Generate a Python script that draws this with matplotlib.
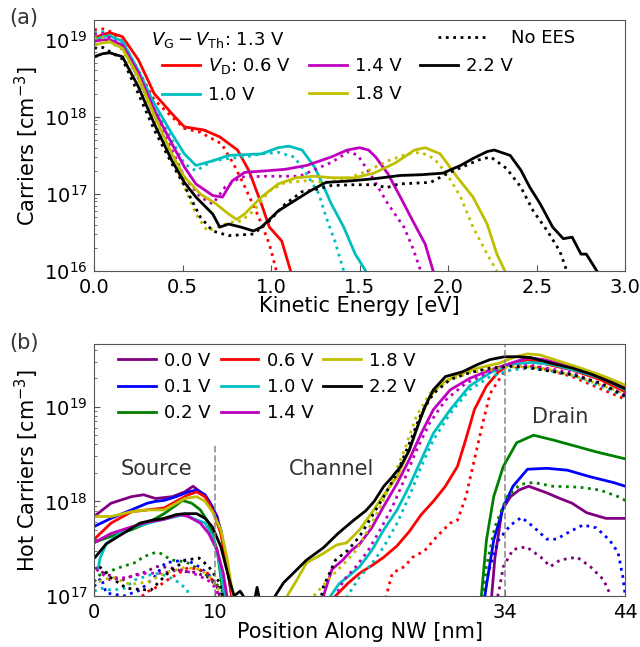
import numpy as np
import matplotlib.pyplot as plt

# ---------------- (a) carriers vs kinetic energy, log10 values ----------------
vd_labels_a = ["$V_\\mathrm{D}$: 0.6 V", "1.0 V", "1.4 V", "1.8 V", "2.2 V"]
colors_a = ["r", "c", "m", "y", "k"]

ke_06 = [0.0, 0.05, 0.09, 0.16, 0.25, 0.34, 0.44, 0.51, 0.62, 0.71, 0.81, 0.875, 0.945, 0.99, 1.06, 1.11]
n_06 = [19.02, 19.07, 19.09, 19.04, 18.74, 18.3, 18.04, 17.87, 17.83, 17.74, 17.57, 17.3, 16.87, 16.57, 16.39, 16.0]
ke_06_nees = [0.0, 0.05, 0.1, 0.16, 0.25, 0.34, 0.44, 0.51, 0.6, 0.72, 0.79, 0.85, 0.93, 0.99, 1.03]
n_06_nees = [19.13, 19.14, 19.1, 18.98, 18.6, 18.22, 18.0, 17.85, 17.8, 17.65, 17.38, 17.1, 16.7, 16.35, 16.0]

ke_10 = [0.0, 0.05, 0.09, 0.16, 0.25, 0.34, 0.44, 0.51, 0.575, 0.67, 0.76, 0.85, 0.945, 1.04, 1.1,
         1.175, 1.245, 1.29, 1.34, 1.41, 1.475, 1.535]
n_10 = [19.0, 19.04, 19.05, 18.98, 18.6, 18.17, 17.78, 17.52, 17.37, 17.43, 17.5, 17.51, 17.52, 17.6, 17.62,
        17.57, 17.35, 17.13, 16.87, 16.57, 16.22, 16.0]
ke_10_nees = [0.0, 0.05, 0.16, 0.25, 0.34, 0.44, 0.51, 0.575, 0.67, 0.76, 0.85, 0.945, 1.04, 1.13, 1.2,
              1.27, 1.31, 1.36, 1.41]
n_10_nees = [19.09, 19.1, 18.95, 18.56, 18.13, 17.7, 17.39, 17.3, 17.43, 17.46, 17.48, 17.52, 17.54, 17.48,
             17.26, 17.0, 16.7, 16.39, 16.0]

ke_14 = [0.0, 0.05, 0.09, 0.16, 0.25, 0.34, 0.44, 0.51, 0.575, 0.67, 0.725, 0.78, 0.85, 0.97, 1.08, 1.2,
         1.34, 1.43, 1.5, 1.55, 1.59, 1.66, 1.73, 1.8, 1.87, 1.915]
n_14 = [18.98, 19.0, 19.0, 18.93, 18.57, 18.09, 17.65, 17.35, 17.13, 16.98, 16.96, 17.17, 17.28, 17.3, 17.32,
        17.37, 17.48, 17.57, 17.6, 17.57, 17.48, 17.26, 16.96, 16.65, 16.35, 16.0]
ke_14_nees = [0.0, 0.05, 0.16, 0.25, 0.34, 0.44, 0.51, 0.6, 0.67, 0.74, 0.83, 0.97, 1.08, 1.16, 1.24, 1.34,
              1.44, 1.49, 1.57, 1.66, 1.75, 1.8, 1.845]
n_14_nees = [19.07, 19.08, 18.92, 18.5, 18.04, 17.57, 17.22, 16.96, 16.87, 17.09, 17.22, 17.23, 17.23, 17.23,
             17.31, 17.41, 17.55, 17.5, 17.22, 16.87, 16.57, 16.3, 16.0]

ke_18 = [0.0, 0.05, 0.09, 0.16, 0.25, 0.34, 0.44, 0.51, 0.6, 0.69, 0.76, 0.805, 0.85, 0.945, 1.04, 1.14,
         1.24, 1.35, 1.47, 1.58, 1.7, 1.81, 1.87, 1.955, 2.05, 2.14, 2.22, 2.275, 2.32]
n_18 = [18.93, 18.96, 18.97, 18.89, 18.52, 18.02, 17.52, 17.22, 17.0, 16.87, 16.74, 16.67, 16.74, 16.96, 17.13,
        17.21, 17.23, 17.21, 17.21, 17.27, 17.4, 17.57, 17.6, 17.52, 17.22, 16.96, 16.61, 16.22, 16.0]
ke_18_nees = [0.0, 0.05, 0.16, 0.25, 0.34, 0.44, 0.51, 0.575, 0.64, 0.7, 0.76, 0.83, 0.9, 0.99, 1.08, 1.2,
              1.31, 1.43, 1.545, 1.66, 1.77, 1.845, 1.92, 1.99, 2.07, 2.14, 2.22, 2.275]
n_18_nees = [19.02, 19.03, 18.87, 18.48, 17.98, 17.48, 17.09, 16.74, 16.52, 16.57, 16.63, 16.65, 16.78, 17.04,
             17.15, 17.17, 17.15, 17.2, 17.3, 17.43, 17.52, 17.54, 17.46, 17.27, 16.96, 16.57, 16.22, 16.0]

ke_22 = [0.0, 0.05, 0.09, 0.16, 0.25, 0.34, 0.44, 0.51, 0.575, 0.67, 0.71, 0.76, 0.83, 0.9, 0.945, 1.04,
         1.13, 1.22, 1.31, 1.45, 1.59, 1.73, 1.85, 1.97, 2.07, 2.14, 2.22, 2.26, 2.35, 2.41, 2.46, 2.52,
         2.59, 2.65, 2.7, 2.75, 2.78, 2.84]
n_22 = [18.78, 18.82, 18.83, 18.78, 18.39, 17.91, 17.43, 17.15, 16.96, 16.74, 16.57, 16.61, 16.57, 16.52,
        16.57, 16.78, 16.91, 17.04, 17.15, 17.17, 17.2, 17.24, 17.25, 17.27, 17.37, 17.46, 17.55, 17.57,
        17.5, 17.31, 17.09, 16.87, 16.57, 16.42, 16.44, 16.22, 16.22, 16.0]
ke_22_nees = [0.0, 0.05, 0.16, 0.25, 0.34, 0.44, 0.51, 0.6, 0.67, 0.76, 0.9, 0.99, 1.08, 1.175, 1.24, 1.34,
              1.47, 1.59, 1.65, 1.72, 1.9, 2.0, 2.08, 2.17, 2.24, 2.33, 2.41, 2.48, 2.56, 2.63, 2.67]
n_22_nees = [18.89, 18.9, 18.75, 18.3, 17.83, 17.39, 17.11, 16.7, 16.52, 16.46, 16.48, 16.65, 16.87, 17.03,
             17.05, 17.11, 17.12, 17.12, 17.08, 17.13, 17.15, 17.27, 17.35, 17.44, 17.48, 17.33, 17.09,
             16.78, 16.52, 16.26, 16.0]

series_a = [(ke_06, n_06, ke_06_nees, n_06_nees), (ke_10, n_10, ke_10_nees, n_10_nees),
            (ke_14, n_14, ke_14_nees, n_14_nees), (ke_18, n_18, ke_18_nees, n_18_nees),
            (ke_22, n_22, ke_22_nees, n_22_nees)]

# ---------------- (b) hot carriers along the nanowire, log10 values ----------------
vd_labels_b = ["0.0 V", "0.1 V", "0.2 V", "0.6 V", "1.0 V", "1.4 V", "1.8 V", "2.2 V"]
colors_b = ["purple", "b", "g", "r", "c", "m", "y", "k"]

pos_00 = [0.1, 1.4, 3.1, 4.1, 5.1, 6.5, 7.5, 8.2, 8.8, 9.5, 10.2, 10.7, 11.2, 11.4, 12.0, 32.6, 33.2, 33.8,
          34.5, 35.2, 36.0, 37.5, 38.6, 39.6, 40.8, 41.6, 42.4, 44.0]
hc_00 = [17.85, 17.98, 18.05, 18.07, 18.03, 18.05, 18.1, 18.16, 18.1, 18.01, 17.84, 17.55, 17.2, 17.0, 16.5,
         16.5, 17.4, 17.91, 18.05, 18.12, 18.16, 18.09, 18.03, 17.98, 17.88, 17.85, 17.82, 17.82]
pos_01 = [0.1, 1.4, 3.1, 4.4, 5.1, 5.8, 6.8, 7.8, 8.5, 9.2, 9.8, 10.5, 11.0, 11.4, 12.0, 32.0, 32.4, 33.1,
          33.9, 34.7, 35.9, 37.5, 39.2, 41.1, 43.0, 44.0]
hc_01 = [17.74, 17.82, 17.91, 17.98, 18.0, 18.01, 18.05, 18.1, 18.12, 18.07, 17.94, 17.7, 17.34, 17.0, 16.5,
         16.5, 17.03, 17.59, 17.94, 18.16, 18.34, 18.35, 18.33, 18.26, 18.2, 18.16]
pos_02 = [0.1, 1.4, 3.1, 4.4, 5.8, 6.8, 7.3, 8.1, 8.8, 9.5, 10.2, 10.5, 10.7, 11.2, 31.6, 32.1, 32.5, 33.1,
          33.9, 35.0, 36.4, 38.0, 40.0, 41.7, 44.0]
hc_02 = [17.57, 17.63, 17.7, 17.77, 17.87, 17.96, 18.01, 17.98, 17.91, 17.77, 17.48, 17.2, 17.0, 16.5, 16.5,
         17.03, 17.59, 18.05, 18.37, 18.62, 18.7, 18.65, 18.58, 18.52, 18.45]
pos_06 = [0.1, 1.4, 3.1, 4.4, 5.8, 6.8, 7.8, 8.5, 9.2, 9.8, 10.5, 11.0, 11.4, 12.0, 19.5, 20.0, 21.0, 22.0,
          23.0, 24.0, 25.1, 26.1, 27.1, 28.1, 29.1, 30.1, 30.8, 31.5, 32.5, 33.5, 34.5, 35.9, 37.2, 39.6,
          41.9, 44.0]
hc_06 = [17.61, 17.77, 17.89, 17.91, 17.93, 18.0, 18.07, 18.1, 18.05, 17.91, 17.66, 17.31, 17.0, 16.5, 16.5,
         17.0, 17.13, 17.24, 17.32, 17.41, 17.53, 17.68, 17.86, 18.0, 18.16, 18.37, 18.66, 18.97, 19.22,
         19.37, 19.46, 19.5, 19.46, 19.39, 19.29, 19.16]
pos_10 = [0.35, 0.5, 1.0, 2.1, 3.4, 4.8, 6.1, 7.5, 8.2, 9.2, 9.8, 10.3, 10.8, 11.3, 19.0, 19.6, 20.3, 21.0,
          22.0, 23.0, 24.0, 25.1, 26.1, 27.1, 28.1, 29.5, 31.1, 32.8, 34.5, 36.2, 37.9, 40.3, 42.3, 44.0]
hc_10 = [17.3, 17.4, 17.55, 17.66, 17.73, 17.78, 17.82, 17.86, 17.82, 17.77, 17.63, 17.41, 17.0, 16.5, 16.5,
         17.0, 17.13, 17.2, 17.31, 17.48, 17.7, 17.91, 18.16, 18.44, 18.72, 18.97, 19.22, 19.36, 19.45,
         19.47, 19.45, 19.37, 19.29, 19.18]
pos_14 = [0.1, 1.4, 3.1, 4.4, 5.8, 7.1, 7.8, 8.8, 9.5, 10.2, 10.7, 11.0, 11.5, 18.5, 19.0, 19.7, 20.6, 21.3,
          22.0, 23.0, 24.0, 25.1, 26.1, 27.1, 28.1, 29.5, 31.1, 32.8, 34.5, 35.9, 37.2, 39.6, 41.9, 44.0]
hc_14 = [17.57, 17.66, 17.73, 17.78, 17.81, 17.86, 17.84, 17.77, 17.66, 17.48, 17.24, 17.0, 16.5, 16.5, 17.0,
         17.28, 17.38, 17.48, 17.55, 17.72, 17.95, 18.19, 18.44, 18.72, 18.97, 19.18, 19.3, 19.39, 19.46,
         19.52, 19.5, 19.43, 19.32, 19.2]
pos_18 = [0.1, 1.4, 3.1, 4.4, 5.8, 6.8, 7.5, 8.5, 9.2, 9.8, 10.5, 11.0, 11.5, 12.0, 15.5, 16.0, 16.8, 17.6,
          19.0, 20.1, 20.9, 22.0, 23.0, 24.0, 25.1, 26.1, 27.1, 27.8, 28.8, 30.1, 31.8, 33.5, 34.9, 35.9,
          36.9, 38.6, 40.3, 42.3, 44.0]
hc_18 = [17.84, 17.84, 17.89, 17.91, 17.91, 17.98, 18.03, 18.05, 18.0, 17.89, 17.7, 17.41, 17.0, 16.5, 16.5,
         17.0, 17.17, 17.35, 17.45, 17.54, 17.56, 17.7, 17.88, 18.07, 18.26, 18.54, 18.9, 19.11, 19.25,
         19.34, 19.41, 19.46, 19.53, 19.56, 19.55, 19.48, 19.41, 19.32, 19.23]
pos_22 = [0.1, 1.0, 2.4, 3.8, 4.8, 5.8, 6.8, 7.5, 8.5, 9.2, 9.8, 10.5, 11.2, 11.6, 12.1, 12.6, 13.2, 13.5,
          13.8, 14.6, 15.0, 15.7, 16.5, 17.6, 19.0, 20.2, 21.5, 22.5, 23.2, 24.0, 24.7, 25.4, 26.1, 26.7,
          27.4, 28.1, 29.1, 30.5, 31.8, 32.8, 34.0, 35.2, 36.2, 37.9, 39.6, 41.3, 43.0, 44.0]
hc_22 = [17.41, 17.55, 17.66, 17.77, 17.8, 17.82, 17.86, 17.87, 17.87, 17.82, 17.73, 17.52, 17.17, 17.0,
         17.05, 16.95, 16.9, 17.09, 16.9, 16.9, 17.0, 17.14, 17.24, 17.38, 17.51, 17.66, 17.8, 17.9, 18.0,
         18.16, 18.26, 18.37, 18.54, 18.76, 19.0, 19.18, 19.32, 19.37, 19.45, 19.5, 19.53, 19.53, 19.52,
         19.46, 19.41, 19.34, 19.25, 19.19]

pos_00_nees = [0.1, 0.8, 1.6, 2.4, 3.3, 4.0, 5.2, 6.3, 7.3, 8.3, 9.4, 10.2, 10.8, 33.0, 33.5, 33.9, 34.7,
               35.8, 37.0, 37.8, 38.6, 40.0, 41.1, 42.2, 42.7, 43.2]
hc_00_nees = [17.3, 17.24, 17.2, 17.17, 17.22, 17.24, 17.31, 17.3, 17.26, 17.25, 17.2, 17.1, 16.8, 16.8,
              17.03, 17.31, 17.49, 17.52, 17.41, 17.31, 17.38, 17.41, 17.31, 17.17, 17.03, 16.8]
pos_01_nees = [0.0, 0.6, 1.0, 2.5, 3.8, 5.0, 5.9, 7.0, 7.7, 8.8, 9.7, 10.4, 10.9, 32.0, 32.4, 32.8, 33.5,
               34.5, 35.4, 36.4, 37.5, 38.3, 39.4, 40.5, 41.6, 42.7, 43.4, 43.8, 44.0]
hc_01_nees = [17.1, 17.19, 17.03, 17.0, 17.06, 17.2, 17.35, 17.37, 17.38, 17.3, 17.2, 17.05, 16.8, 16.8,
              17.1, 17.31, 17.59, 17.75, 17.83, 17.73, 17.6, 17.6, 17.68, 17.75, 17.72, 17.59, 17.46,
              17.2, 17.0]
pos_02_nees = [0.0, 0.45, 2.1, 3.6, 4.0, 5.1, 5.5, 6.4, 7.6, 8.7, 9.8, 10.6, 11.0, 31.8, 32.2, 32.5, 33.2,
               34.2, 35.3, 36.4, 38.0, 40.2, 41.9, 43.4, 44.0]
hc_02_nees = [17.15, 17.22, 17.3, 17.36, 17.41, 17.46, 17.45, 17.38, 17.36, 17.28, 17.17, 17.06, 16.8,
              16.8, 17.0, 17.31, 17.73, 18.05, 18.18, 18.2, 18.16, 18.15, 18.12, 18.05, 18.01]
pos_06_nees = [3.0, 4.5, 5.3, 6.1, 7.0, 7.8, 8.7, 9.4, 10.1, 10.6, 23.8, 24.2, 24.7, 25.7, 26.4, 27.4,
               28.4, 29.5, 30.1, 30.8, 31.5, 32.2, 32.8, 33.9, 34.9, 36.5, 39.6, 44.0]
hc_06_nees = [16.9, 17.05, 17.1, 17.17, 17.24, 17.3, 17.28, 17.24, 17.1, 16.9, 16.8, 17.0, 17.24, 17.31,
              17.41, 17.48, 17.63, 17.77, 17.8, 18.05, 18.44, 18.83, 19.14, 19.36, 19.41, 19.43, 19.32, 19.08]
pos_10_nees = [0.0, 0.6, 1.5, 2.5, 3.4, 4.6, 5.4, 6.7, 7.7, 8.2, 20.5, 21.0, 22.0, 23.0, 24.0, 25.1, 26.1,
               27.1, 28.1, 29.5, 31.1, 32.8, 34.5, 36.2, 39.6, 44.0]
hc_10_nees = [17.05, 17.08, 17.06, 17.08, 17.17, 17.22, 17.24, 17.17, 17.07, 16.8, 16.8, 17.0, 17.2, 17.34,
              17.52, 17.77, 18.05, 18.37, 18.65, 18.93, 19.18, 19.32, 19.39, 19.41, 19.34, 19.11]
pos_14_nees = [0.2, 1.3, 2.9, 4.3, 5.7, 7.1, 8.2, 9.4, 10.1, 10.8, 19.5, 20.0, 20.7, 21.7, 22.7, 23.7, 24.7,
               25.7, 26.7, 27.8, 29.1, 30.8, 32.8, 34.5, 36.2, 39.6, 44.0]
hc_14_nees = [17.28, 17.17, 17.2, 17.24, 17.24, 17.28, 17.24, 17.17, 17.08, 16.8, 16.8, 17.0, 17.17, 17.31,
              17.48, 17.7, 17.94, 18.23, 18.54, 18.83, 19.07, 19.25, 19.37, 19.43, 19.44, 19.36, 19.13]
pos_18_nees = [0.4, 1.5, 3.0, 4.5, 6.0, 7.5, 8.8, 9.8, 10.4, 11.0, 17.0, 18.2, 19.6, 20.7, 21.7, 22.7,
               23.7, 24.7, 25.7, 26.7, 27.8, 29.5, 31.1, 33.5, 35.5, 37.5, 40.0, 44.0]
hc_18_nees = [17.15, 17.2, 17.12, 17.15, 17.25, 17.3, 17.28, 17.18, 17.05, 16.8, 16.8, 17.0, 17.2, 17.34,
              17.48, 17.7, 17.94, 18.23, 18.54, 18.9, 19.14, 19.29, 19.36, 19.41, 19.43, 19.4, 19.32, 19.14]
pos_22_nees = [0.45, 1.3, 2.7, 4.7, 6.1, 7.6, 8.7, 9.5, 10.4, 11.0, 18.5, 19.0, 20.0, 21.0, 22.0, 23.0,
               24.0, 25.1, 26.1, 27.1, 28.1, 29.5, 31.1, 32.8, 34.5, 36.2, 39.6, 42.0, 44.0]
hc_22_nees = [17.31, 17.2, 17.08, 17.06, 17.24, 17.38, 17.4, 17.31, 17.14, 16.8, 16.8, 17.1, 17.38, 17.48,
              17.63, 17.84, 18.05, 18.3, 18.61, 18.93, 19.14, 19.29, 19.36, 19.41, 19.43, 19.41, 19.34,
              19.25, 19.11]

series_b = [(pos_00, hc_00, pos_00_nees, hc_00_nees), (pos_01, hc_01, pos_01_nees, hc_01_nees),
            (pos_02, hc_02, pos_02_nees, hc_02_nees), (pos_06, hc_06, pos_06_nees, hc_06_nees),
            (pos_10, hc_10, pos_10_nees, hc_10_nees), (pos_14, hc_14, pos_14_nees, hc_14_nees),
            (pos_18, hc_18, pos_18_nees, hc_18_nees), (pos_22, hc_22, pos_22_nees, hc_22_nees)]

region_labels = ["Source", "Channel", "Drain"]

# ---------------- figure ----------------
plt.rcParams['font.family'] = 'DejaVu Sans'
plt.rcParams['mathtext.fontset'] = 'dejavusans'
edge = '#555555'
lw = 2.0

fig = plt.figure(figsize=(6.4, 6.47), dpi=100)
ax1 = fig.add_axes([0.147, 0.581, 0.83, 0.388])
ax2 = fig.add_axes([0.147, 0.079, 0.83, 0.389])

for ax in (ax1, ax2):
    ax.set_yscale('log')
    ax.tick_params(which='both', direction='in', top=False, right=False, labelsize=14, color=edge)
    ax.tick_params(which='major', length=4)
    ax.tick_params(which='minor', length=2)
    ax.tick_params(axis='x', pad=5)
    ax.tick_params(axis='y', pad=4.5)
    for s in ax.spines.values():
        s.set_color(edge)

# (a)
handles = []
for (e, n, e2, n2), c, lab in zip(series_a, colors_a, vd_labels_a):
    h, = ax1.plot(e, 10 ** np.array(n), color=c, lw=lw, label=lab)
    ax1.plot(e2, 10 ** np.array(n2), color=c, lw=lw, ls=':')
    handles.append(h)
ax1.set_xlim(0, 3.0)
ax1.set_ylim(1e16, 1.8e19)
ax1.set_xticks([0.0, 0.5, 1.0, 1.5, 2.0, 2.5, 3.0])
ax1.set_xlabel('Kinetic Energy [eV]', fontsize=15)
ax1.set_ylabel('Carriers [cm$^{-3}$]', fontsize=15)
ax1.xaxis.set_label_coords(0.5, -0.1)
ax1.yaxis.set_label_coords(-0.1, 0.5)

ax1.text(0.108, 0.92, '$V_\\mathrm{G}-V_\\mathrm{Th}$: 1.3 V', transform=ax1.transAxes,
         fontsize=13, ha='left', va='center')
leg1 = ax1.legend(handles=handles, ncol=3, loc='upper left', bbox_to_anchor=(0.128, 0.855),
                  frameon=False, fontsize=13, borderpad=0, borderaxespad=0, handlelength=2.1,
                  handletextpad=0.45, columnspacing=1.0, labelspacing=0.55)
ax1.add_artist(leg1)
nees, = ax1.plot([], [], color='k', lw=lw, ls=':', label='No EES')
ax1.legend(handles=[nees], loc='upper left', bbox_to_anchor=(0.648, 0.965), frameon=False,
           fontsize=13, borderpad=0, borderaxespad=0, handlelength=2.8, handletextpad=1.2)

# (b)
handles_b = []
for (x, y, x2, y2), c, lab in zip(series_b, colors_b, vd_labels_b):
    h, = ax2.plot(x, 10 ** np.array(y), color=c, lw=lw, label=lab)
    ax2.plot(x2, 10 ** np.array(y2), color=c, lw=lw, ls=':')
    handles_b.append(h)
ax2.axvline(34, color='gray', lw=1.3, ls='--', alpha=0.8)
ax2.vlines(10, 1e17, 4e18, color='gray', lw=1.3, ls='--', alpha=0.8)
ax2.set_xlim(0, 44)
ax2.set_ylim(1e17, 4.6e19)
ax2.set_xticks([0, 10, 34, 44])
ax2.set_xlabel('Position Along NW [nm]', fontsize=15)
ax2.set_ylabel('Hot Carriers [cm$^{-3}$]', fontsize=15)
ax2.xaxis.set_label_coords(0.5, -0.105)
ax2.yaxis.set_label_coords(-0.1, 0.5)
ax2.legend(handles=handles_b, ncol=3, loc='upper left', bbox_to_anchor=(0.045, 0.97),
           frameon=False, fontsize=13, borderpad=0, borderaxespad=0, handlelength=2.1,
           handletextpad=0.45, columnspacing=0.55, labelspacing=0.45)
for lab, xp, yp in zip(region_labels, [5.2, 19.7, 38.6], [2.2e18, 2.2e18, 7.8e18]):
    ax2.text(xp, yp, lab, fontsize=15, color='#333333', ha='center', va='center')

fig.text(0.0375, 0.972, '(a)', fontsize=15, color='#333333', ha='center', va='center')
fig.text(0.0375, 0.47, '(b)', fontsize=15, color='#333333', ha='center', va='center')

fig.savefig('out.png', dpi=100)
